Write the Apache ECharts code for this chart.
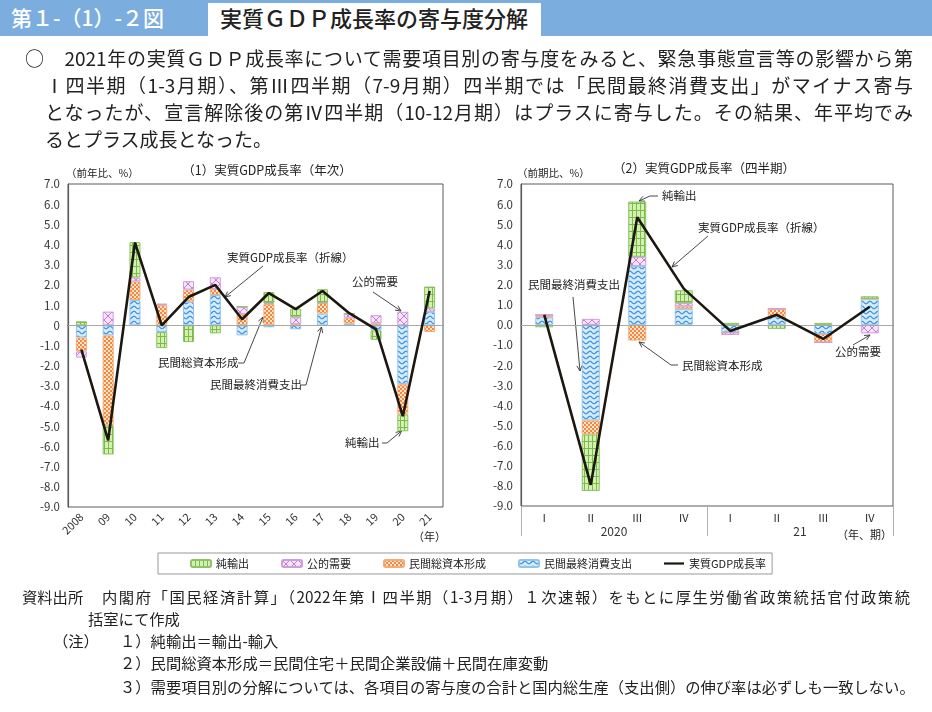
<!DOCTYPE html>
<html><head><meta charset="utf-8">
<script src="https://cdn.jsdelivr.net/npm/echarts@6/dist/echarts.min.js"></script>
<style>
html,body{margin:0;padding:0;background:#fff;width:932px;height:712px;overflow:hidden;font-family:"Noto Sans CJK JP","Noto Sans",sans-serif;color:#222}
.t{position:absolute;white-space:nowrap;line-height:1}
.j{text-align:justify;text-align-last:justify;white-space:normal;overflow:hidden}
#chart{position:absolute;left:0;top:0;width:932px;height:712px}
</style></head>
<body>
<div id="chart"></div>
<div style="position:absolute;left:0;top:0;width:932px;height:36px;background:#7badde"></div>
<div style="position:absolute;left:208px;top:3px;width:333px;height:33px;background:#fff"></div>
<div class="t" style="left:11px;top:7px;font-size:21px;color:#fff;font-weight:500">第１-（1）-２図</div>
<div class="t" style="left:220px;top:6px;font-size:22px;color:#222;font-weight:500">実質ＧＤＰ成長率の寄与度分解</div>

<div class="t j" style="left:25px;top:48px;width:888px;font-size:19px;height:22px">○　2021年の実質ＧＤＰ成長率について需要項目別の寄与度をみると、緊急事態宣言等の影響から第</div>
<div class="t j" style="left:45px;top:75px;width:868px;font-size:19px;height:22px">Ⅰ四半期（1-3月期）、第Ⅲ四半期（7-9月期）四半期では「民間最終消費支出」がマイナス寄与</div>
<div class="t j" style="left:45px;top:102px;width:868px;font-size:19px;height:22px">となったが、宣言解除後の第Ⅳ四半期（10-12月期）はプラスに寄与した。その結果、年平均でみ</div>
<div class="t" style="left:45px;top:129px;font-size:19px">るとプラス成長となった。</div>

<div class="t" style="left:22px;top:589px;font-size:15.3px">資料出所</div>
<div class="t j" style="left:102px;top:589px;width:808px;font-size:15.3px;height:18px">内閣府「国民経済計算」（2022年第Ⅰ四半期（1-3月期）１次速報）をもとに厚生労働省政策統括官付政策統</div>
<div class="t" style="left:88px;top:611px;font-size:15.3px">括室にて作成</div>
<div class="t" style="left:53px;top:633px;font-size:15.3px">（注）</div>
<div class="t" style="left:120px;top:633px;font-size:15.3px">１）純輸出＝輸出-輸入</div>
<div class="t" style="left:120px;top:655px;font-size:15.3px">２）民間総資本形成＝民間住宅＋民間企業設備＋民間在庫変動</div>
<div class="t" style="left:120px;top:679px;font-size:15.3px">３）需要項目別の分解については、各項目の寄与度の合計と国内総生産（支出側）の伸び率は必ずしも一致しない。</div>

<script>
// ---------- DATA ----------
const years = ['2008','09','10','11','12','13','14','15','16','17','18','19','20','21'];
const annConsumption = [-0.6, -0.5, 1.25, -0.33, 1.17, 1.5, -0.5, -0.1, -0.2, 0.58, 0.08, -0.25, -2.92, 0.67];
const annInvestment  = [-0.7, -4.45, 0.92, 1.0, 0.6, 0.3, 0.55, 1.05, 0.05, 0.52, 0.3, 0.1, -1.5, -0.33];
const annPublic      = [-0.3, 0.68, 0.2, 0.08, 0.42, 0.58, 0.37, 0.05, 0.35, 0.02, 0.2, 0.4, 0.67, 0.17];
const annNetExports  = [0.2, -1.45, 1.75, -0.8, -0.83, -0.4, 0.0, 0.55, 0.42, 0.67, 0.0, -0.47, -0.83, 1.08];
const annGdp         = [-1.2, -5.7, 4.1, 0.0, 1.4, 2.0, 0.3, 1.6, 0.8, 1.7, 0.6, -0.2, -4.5, 1.7];

const quarterKeys  = ['2020Ⅰ','2020Ⅱ','2020Ⅲ','2020Ⅳ','2021Ⅰ','2021Ⅱ','2021Ⅲ','2021Ⅳ'];
const quarterYears = ['2020','21'];
const qConsumption = [0.38, -4.75, 2.92, 0.8, -0.37, 0.4, -0.45, 1.3];
const qInvestment  = [0.12, -0.7, -0.78, 0.12, 0.0, 0.4, -0.42, 0.0];
const qPublic      = [0.0, 0.3, 0.46, 0.16, -0.13, 0.0, 0.0, -0.42];
const qNetExports  = [-0.12, -2.8, 2.75, 0.64, 0.1, -0.2, 0.1, 0.12];
const qGdp         = [0.5, -7.95, 5.35, 1.8, -0.3, 0.5, -0.7, 0.9];

const yMin = -9, yMax = 7, yStep = 1;
const names = {net:'純輸出', pub:'公的需要', inv:'民間総資本形成', cons:'民間最終消費支出', gdp:'実質GDP成長率'};

// ---------- PATTERNS ----------
function pat(w,h,draw){const c=document.createElement('canvas');c.width=w;c.height=h;const g=c.getContext('2d');draw(g,w,h);return {image:c,repeat:'repeat'};}
const pGreen = pat(4,7,(g)=>{g.fillStyle='#d3f2b2';g.fillRect(0,0,4,7);g.fillStyle='#7ab94a';g.fillRect(0,0,1,7);g.fillRect(0,0,4,1);});
const pPurple = pat(8,8,(g)=>{g.fillStyle='#f7e3fb';g.fillRect(0,0,8,8);g.strokeStyle='#c47ad9';g.lineWidth=1;g.beginPath();g.moveTo(0,0);g.lineTo(8,8);g.moveTo(8,0);g.lineTo(0,8);g.stroke();});
const pOrange = pat(4,4,(g)=>{g.fillStyle='#ffe4cd';g.fillRect(0,0,4,4);g.fillStyle='#f5873a';g.fillRect(0,0,2,2);g.fillRect(2,2,2,2);});
const pBlue = pat(8,5,(g)=>{g.fillStyle='#d4ebfc';g.fillRect(0,0,8,5);g.strokeStyle='#2d86e0';g.lineWidth=1.1;g.beginPath();for(let x=0;x<=8;x+=0.5){const y=2.5+1.3*Math.sin(x/8*2*Math.PI);if(x===0)g.moveTo(x,y);else g.lineTo(x,y);}g.stroke();});

const FONT = '"Noto Sans CJK JP","Noto Sans",sans-serif';
const LINE_COLOR = '#1c1711';
const chart = echarts.init(document.getElementById('chart'), null, {renderer:'canvas'});

function barSeries(name, data, color, border, xi, bw){
  return {name, type:'bar', data, stack: 's'+xi, xAxisIndex:xi, yAxisIndex:xi===0?0:1, barWidth:bw,
    itemStyle:{color, borderColor:border, borderWidth:1}, emphasis:{disabled:true}, z:2};
}
function buildSeries(xi, cons, inv, pub, net, gdp, bw){
  return [
    {name:'', type:'line', xAxisIndex:xi, yAxisIndex:xi===0?0:1, data:cons.map(()=>null), z:1, silent:true,
      markLine:{silent:true, symbol:'none', label:{show:false}, lineStyle:{color:'#a8a8a8', width:1, type:'solid'}, data:[{yAxis:0}]}},
    barSeries(names.cons, cons, pBlue, '#93c4ec', xi, bw),
    barSeries(names.inv, inv, pOrange, '#f3ab7a', xi, bw),
    barSeries(names.pub, pub, pPurple, '#cc9fdc', xi, bw),
    barSeries(names.net, net, pGreen, '#8dc266', xi, bw),
    {name:names.gdp, type:'line', data:gdp, xAxisIndex:xi, yAxisIndex:xi===0?0:1, symbol:'none', showSymbol:false,
      lineStyle:{color:LINE_COLOR, width:2.6}, itemStyle:{color:LINE_COLOR}, z:5, emphasis:{disabled:true}}
  ];
}

function yAxis(grid, zeroLabel){
  return {gridIndex:grid, type:'value', min:yMin, max:yMax, interval:yStep,
    axisLine:{show:true, lineStyle:{color:'#5a5a5a', width:1.2}}, axisTick:{show:false}, splitLine:{show:false},
    axisLabel:{fontSize:11.5, color:'#333', margin:8, fontFamily:FONT,
      formatter:(v)=> v===0 ? zeroLabel : v.toFixed(1)}};
}

// annotation helpers
function txt(x,y,s,size,align){return {type:'text', x, y, silent:true, style:{text:s, fontSize:size||11.5, fontFamily:FONT, fill:'#222', align:align||'left', verticalAlign:'middle'}};}
function arrow(pts){
  const n=pts.length, [x2,y2]=pts[n-1], [x1,y1]=pts[n-2];
  const a=Math.atan2(y2-y1,x2-x1), L=6, w=0.45;
  const h=[[x2-L*Math.cos(a-w), y2-L*Math.sin(a-w)],[x2,y2],[x2-L*Math.cos(a+w), y2-L*Math.sin(a+w)]];
  return [
    {type:'polyline', silent:true, shape:{points:pts}, style:{stroke:'#333', lineWidth:0.9, fill:null}},
    {type:'polyline', silent:true, shape:{points:h}, style:{stroke:'#333', lineWidth:0.9, fill:null}}
  ];
}

const graphics = [
  txt(267,170,'（1）実質GDP成長率（年次）',12.5,'center'),
  txt(704,168,'（2）実質GDP成長率（四半期）',12.5,'center'),
  txt(66,173,'（前年比、%）',10.5),
  txt(517,173,'（前期比、%）',10.5),
  txt(446,537,'（年）',11,'right'),
  txt(892,535,'（年、期）',11,'right'),
  // left chart annotations
  txt(227,258,'実質GDP成長率（折線）'), ...arrow([[263,266],[225,297]]),
  txt(352,282,'公的需要'), ...arrow([[373,292],[401,311]]),
  txt(158,363,'民間総資本形成'), ...arrow([[238,363],[244,363],[263,317]]),
  txt(210,385,'民間最終消費支出'), ...arrow([[300,385],[306,385],[321.5,327]]),
  txt(345,443,'純輸出'), ...arrow([[382,443],[387,443],[401.5,431]]),
  // right chart annotations
  txt(662,196,'純輸出'), ...arrow([[658,196],[650,196],[639,201]]),
  txt(698,228,'実質GDP成長率（折線）'), ...arrow([[708,236],[672,267]]),
  txt(528,285,'民間最終消費支出'), ...arrow([[573,297],[580,371]]),
  txt(682,366,'民間総資本形成'), ...arrow([[678,365],[671,365],[639,342]]),
  txt(835,352,'公的需要'), ...arrow([[853,345],[870,335]])
];

const option = {
  animation:false,
  textStyle:{fontFamily:FONT},
  grid:[
    {left:68, top:184, width:375, height:323, show:true, borderColor:'#5a5a5a', borderWidth:1},
    {left:521, top:184, width:372, height:322, show:true, borderColor:'#5a5a5a', borderWidth:1}
  ],
  xAxis:[
    {gridIndex:0, type:'category', data:years, axisLine:{lineStyle:{color:'#5a5a5a', width:1.2}}, axisTick:{show:false},
      axisLabel:{rotate:45, fontSize:11, color:'#333', margin:8, interval:0}},
    {gridIndex:1, type:'category', data:quarterKeys, axisLine:{lineStyle:{color:'#5a5a5a', width:1.2}}, axisTick:{show:false},
      axisLabel:{fontSize:11, color:'#333', margin:6, interval:0, formatter:(v)=>v.replace(/^\d+/,'')}},
    {gridIndex:1, type:'category', data:quarterYears, position:'bottom', axisLine:{show:false},
      axisTick:{show:true, length:30, interval:0, lineStyle:{color:'#b0b0b0'}},
      axisLabel:{fontSize:12, color:'#333', margin:19, interval:0}}
  ],
  yAxis:[ yAxis(0,'0'), yAxis(1,'0.0') ],
  legend:{
    left:158, top:553, orient:'horizontal', padding:[5,6,5,32], itemGap:32, itemWidth:20, itemHeight:7,
    borderColor:'#999', borderWidth:1, selectedMode:false, symbolKeepAspect:true,
    textStyle:{fontSize:11, color:'#222', fontFamily:FONT},
    data:[names.net, names.pub, names.inv, names.cons,
      {name:names.gdp, icon:'path://M0,0L9,0L9,1L0,1Z', itemStyle:{color:LINE_COLOR}, lineStyle:{width:0}}]
  },
  series:[
    ...buildSeries(0, annConsumption, annInvestment, annPublic, annNetExports, annGdp, 11),
    ...buildSeries(1, qConsumption, qInvestment, qPublic, qNetExports, qGdp, 18)
  ],
  graphic:graphics
};
chart.setOption(option);
</script>
</body></html>
